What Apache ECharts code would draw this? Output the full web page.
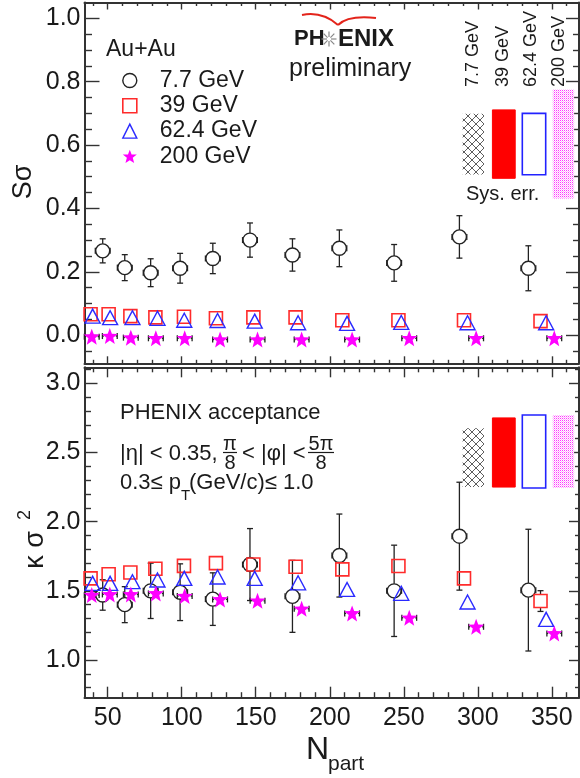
<!DOCTYPE html>
<html>
<head>
<meta charset="utf-8">
<script src="https://cdn.jsdelivr.net/npm/echarts@6/dist/echarts.min.js"></script>
<style>
html, body { margin: 0; padding: 0; background: #fff; }
#main { width: 580px; height: 778px; }
</style>
</head>
<body>
<div id="main"></div>
<script>
// N_part of each centrality bin, per beam energy
var npart77  = [46.6, 61.5, 79.0, 98.9, 121.0, 146.1, 174.8, 206.5, 243.5, 287.6, 334.2];
var npart39  = [38.4, 50.6, 65.3, 82.2, 101.5, 123.1, 148.4, 176.9, 208.5, 246.4, 290.7, 342.4];
var npart62  = [39.8, 51.6, 66.7, 83.6, 101.7, 124.2, 149.3, 178.6, 211.7, 248.3, 293.1, 346.2];
var npart200 = [39.2, 51.4, 65.6, 82.5, 102.0, 125.9, 151.2, 181.0, 215.1, 253.7, 298.9, 351.7];
// horizontal (N_part) uncertainties
var npartErr77  = [5, 5, 5, 5, 5, 5, 5, 5, 5, 5, 5];
var npartErr39  = [3.5, 3.5, 3.5, 3.5, 3.5, 3.5, 3.5, 3.5, 3.5, 3.5, 3.5, 3.5];
var npartErr62  = [4.5, 4.5, 4.5, 4.5, 4.5, 4.5, 4.5, 4.5, 4.5, 4.5, 4.5, 4.5];
var npartErr200 = [5, 5, 5, 5, 5, 5, 5, 5, 5, 5, 5, 5];

// top panel: S*sigma
var ssig77    = [0.266, 0.213, 0.197, 0.211, 0.242, 0.300, 0.253, 0.274, 0.228, 0.310, 0.211];
var ssig77Err = [0.038, 0.041, 0.044, 0.047, 0.048, 0.054, 0.051, 0.058, 0.058, 0.067, 0.071];
var ssig39    = [0.066, 0.066, 0.060, 0.056, 0.058, 0.053, 0.056, 0.056, 0.047, 0.047, 0.047, 0.044];
var ssig62    = [0.060, 0.055, 0.055, 0.053, 0.047, 0.046, 0.044, 0.039, 0.037, 0.040, 0.039, 0.039];
var ssig200   = [-0.005, -0.003, -0.008, -0.010, -0.010, -0.014, -0.014, -0.014, -0.014, -0.010, -0.010, -0.010];

// bottom panel: kappa*sigma^2
var ksig77    = [1.47, 1.40, 1.50, 1.49, 1.44, 1.69, 1.46, 1.755, 1.50, 1.895, 1.505];
var ksig77Err = [0.11, 0.13, 0.20, 0.205, 0.19, 0.26, 0.26, 0.30, 0.33, 0.39, 0.44];
var ksig39    = [1.59, 1.62, 1.633, 1.66, 1.68, 1.70, 1.69, 1.674, 1.655, 1.679, 1.59, 1.426];
var ksig39Err = [0.02, 0.02, 0.02, 0.02, 0.02, 0.02, 0.02, 0.02, 0.02, 0.02, 0.05, 0.075];
var ksig62    = [1.554, 1.554, 1.566, 1.578, 1.59, 1.60, 1.59, 1.558, 1.51, 1.482, 1.419, 1.294];
var ksig200   = [1.469, 1.474, 1.474, 1.481, 1.462, 1.438, 1.428, 1.370, 1.337, 1.305, 1.240, 1.192];

// systematic uncertainty boxes (half heights), order 7.7, 39, 62.4, 200 GeV
var sysSsig = [0.096, 0.108, 0.097, 0.172];
var sysKsig = [0.213, 0.25, 0.264, 0.264];

var energies = ['7.7 GeV', '39 GeV', '62.4 GeV', '200 GeV'];
var xTicks = [50, 100, 150, 200, 250, 300, 350];
var ssigTicks = [0, 0.2, 0.4, 0.6, 0.8, 1.0];
var ksigTicks = [1.0, 1.5, 2.0, 2.5, 3.0];

var FONT = '"Liberation Sans", Arial, Helvetica, sans-serif';
var INK = '#1a1a1a';
var FRAME = '#333';
var STAR = 'path://M50,0 L63,34 L100,35 L71,58 L81,96 L50,75 L19,96 L29,58 L0,35 L37,34 Z';

function minorsBetween(from, to, step, majors) {
  var out = [];
  for (var v = from; v <= to + 1e-9; v += step) {
    var r = Math.round(v * 1000) / 1000;
    if (majors.indexOf(r) < 0) out.push(r);
  }
  return out;
}

var chart = echarts.init(document.getElementById('main'));

// four framed sides per panel, each side = major-tick axis + minor-tick axis
function side(grid, pos, min, max, majors, minors, majLen, minLen, label) {
  var base = { gridIndex: grid, type: 'value', min: min, max: max, position: pos, splitLine: { show: false } };
  var tickStyle = { color: FRAME, width: 1.4 };
  var major = Object.assign({}, base, {
    axisLine: { show: true, onZero: false, lineStyle: { color: FRAME, width: 2 } },
    axisTick: { show: true, inside: true, length: majLen, customValues: majors, lineStyle: tickStyle },
    axisLabel: label ? Object.assign({ customValues: majors }, label) : { show: false }
  });
  var minor = Object.assign({}, base, {
    axisLine: { show: false, onZero: false },
    axisTick: { show: true, inside: true, length: minLen, customValues: minors, lineStyle: tickStyle },
    axisLabel: { show: false }
  });
  return [major, minor];
}

var X_MIN = 34.3, X_MAX = 368.4;
var xMinor = minorsBetween(40, 360, 10, xTicks);
var yLabel = { fontSize: 25, color: INK, fontFamily: FONT, margin: 4, formatter: function (v) { return v.toFixed(1); } };
var xLabel = { fontSize: 25, color: INK, fontFamily: FONT, margin: 8 };

var xAxes = [].concat(
  side(0, 'bottom', X_MIN, X_MAX, xTicks, xMinor, 7, 3.5, null),
  side(0, 'top', X_MIN, X_MAX, xTicks, xMinor, 7, 3.5, null),
  side(1, 'bottom', X_MIN, X_MAX, xTicks, xMinor, 11, 5.5, xLabel),
  side(1, 'top', X_MIN, X_MAX, xTicks, xMinor, 10, 5, null)
);
var yAxes = [].concat(
  side(0, 'left', -0.089, 1.05, ssigTicks, minorsBetween(-0.05, 1.0, 0.05, ssigTicks), 15, 7.5, yLabel),
  side(0, 'right', -0.089, 1.05, ssigTicks, minorsBetween(-0.05, 1.0, 0.05, ssigTicks), 13, 6, null),
  side(1, 'left', 0.7275, 3.1157, ksigTicks, minorsBetween(0.8, 3.1, 0.1, ksigTicks), 13, 6.5, yLabel),
  side(1, 'right', 0.7275, 3.1157, ksigTicks, minorsBetween(0.8, 3.1, 0.1, ksigTicks), 10, 4, null)
);

var styles = {
  '7.7 GeV': { symbol: 'circle', size: 14, item: { color: 'rgba(0,0,0,0)', borderColor: '#222', borderWidth: 1.4, opacity: 1 } },
  '39 GeV': { symbol: 'rect', size: 13, item: { color: 'rgba(0,0,0,0)', borderColor: '#ff2b2b', borderWidth: 1.6, opacity: 1 } },
  '62.4 GeV': { symbol: 'triangle', size: [15, 14], item: { color: 'rgba(0,0,0,0)', borderColor: '#2a2aff', borderWidth: 1.4, opacity: 1 } },
  '200 GeV': { symbol: STAR, size: 16, item: { color: '#ff00ff', opacity: 1 } }
};

function markers(name, grid, xs, ys) {
  var s = styles[name];
  return {
    type: 'scatter', name: name, xAxisIndex: grid * 4, yAxisIndex: grid * 4,
    data: xs.map(function (x, i) { return [x, ys[i]]; }),
    symbol: s.symbol, symbolSize: s.size, itemStyle: s.item, z: 5, silent: true
  };
}

// error bars with end caps, not drawn inside the marker
function errorBars(name, grid, xs, ys, yErr, xErr, gap) {
  return {
    type: 'custom', name: name, xAxisIndex: grid * 4, yAxisIndex: grid * 4, z: 4, silent: true,
    data: xs.map(function (x, i) { return [x, ys[i], yErr ? yErr[i] : 0, xErr ? xErr[i] : 0]; }),
    encode: { x: 0, y: 1 },
    renderItem: function (params, api) {
      var x = api.value(0), y = api.value(1), ey = api.value(2), ex = api.value(3);
      var c = api.coord([x, y]);
      var top = api.coord([x, y + ey])[1], bot = api.coord([x, y - ey])[1];
      var lft = api.coord([x - ex, y])[0], rgt = api.coord([x + ex, y])[0];
      var st = { stroke: '#222', lineWidth: 1.3 };
      var cap = 3, kids = [];
      function seg(x1, y1, x2, y2) { kids.push({ type: 'line', shape: { x1: x1, y1: y1, x2: x2, y2: y2 }, style: st }); }
      if (c[1] - top > gap) { seg(c[0], c[1] - gap, c[0], top); seg(c[0] - cap, top, c[0] + cap, top); }
      if (bot - c[1] > gap) { seg(c[0], c[1] + gap, c[0], bot); seg(c[0] - cap, bot, c[0] + cap, bot); }
      if (c[0] - lft > gap) { seg(c[0] - gap, c[1], lft, c[1]); seg(lft, c[1] - cap, lft, c[1] + cap); }
      if (rgt - c[0] > gap) { seg(c[0] + gap, c[1], rgt, c[1]); seg(rgt, c[1] - cap, rgt, c[1] + cap); }
      return { type: 'group', children: kids };
    }
  };
}

function hatchPattern() {
  var c = document.createElement('canvas');
  c.width = 8; c.height = 8;
  var g = c.getContext('2d');
  g.fillStyle = '#fff'; g.fillRect(0, 0, 8, 8);
  g.strokeStyle = '#333'; g.lineWidth = 0.8;
  g.beginPath(); g.moveTo(0, 0); g.lineTo(8, 8); g.moveTo(8, 0); g.lineTo(0, 8); g.stroke();
  return c;
}
function dotPattern() {
  var c = document.createElement('canvas');
  c.width = 2; c.height = 2;
  var g = c.getContext('2d');
  g.fillStyle = '#fff'; g.fillRect(0, 0, 2, 2);
  g.fillStyle = '#ff33ff'; g.fillRect(0, 0, 1, 1);
  g.fillStyle = '#ffb3ff'; g.fillRect(1, 1, 1, 1);
  return c;
}
var boxFills = [
  { fill: { image: hatchPattern(), repeat: 'repeat' }, stroke: null },
  { fill: '#ff0000', stroke: '#ff0000', lineWidth: 1 },
  { fill: '#fff', stroke: '#2222ff', lineWidth: 1.6 },
  { fill: { image: dotPattern(), repeat: 'repeat' }, stroke: null }
];

// systematic boxes: placed at fixed N_part slots, centred on given level
function sysBoxes(grid, halfs, centres) {
  var slotX = [297, 317.6, 338, 357.9];
  var slotW = [7.2, 7.7, 7.9, 7.2];
  return {
    type: 'custom', xAxisIndex: grid * 4, yAxisIndex: grid * 4, z: 3, silent: true,
    data: halfs.map(function (h, i) { return [slotX[i], centres[i], h, i]; }),
    encode: { x: 0, y: 1 },
    renderItem: function (params, api) {
      var i = api.value(3), x = api.value(0), y = api.value(1), h = api.value(2);
      var p1 = api.coord([x - slotW[i], y + h]);
      var p2 = api.coord([x + slotW[i], y - h]);
      return { type: 'rect', shape: { x: p1[0], y: p1[1], width: p2[0] - p1[0], height: p2[1] - p1[1] }, style: boxFills[i] };
    }
  };
}

function txt(s, x, y, size, opt) {
  opt = opt || {};
  var al = opt.align || 'left', va = opt.va || 'middle';
  return {
    type: 'text', x: x, y: y, rotation: opt.rot || 0, silent: true, z: 100,
    style: {
      text: s, fontSize: size, fontFamily: FONT, fontWeight: opt.bold ? 'bold' : 'normal',
      fill: opt.color || INK, align: al, verticalAlign: va, textAlign: al, textVerticalAlign: va
    }
  };
}
function ln(x1, y1, x2, y2, color, w) {
  return { type: 'line', silent: true, z: 100, shape: { x1: x1, y1: y1, x2: x2, y2: y2 }, style: { stroke: color, lineWidth: w } };
}

var graphics = [
  txt('Au+Au', 106, 50, 23),
  // PHENIX logo
  { type: 'bezierCurve', silent: true, z: 100, shape: { x1: 302, y1: 15, cpx1: 322, cpy1: 11, x2: 338, y2: 25 }, style: { stroke: '#e3241b', lineWidth: 2, fill: null } },
  { type: 'bezierCurve', silent: true, z: 100, shape: { x1: 338, y1: 25, cpx1: 348, cpy1: 15, x2: 376, y2: 18 }, style: { stroke: '#e3241b', lineWidth: 2, fill: null } },
  txt('PH', 294, 39, 22, { bold: true }),
  txt('ENIX', 338, 39, 24, { bold: true }),
  txt('preliminary', 289, 69, 25),
  // energy headers over the systematic boxes
  txt('7.7 GeV', 473, 87, 18, { rot: Math.PI / 2 }),
  txt('39 GeV', 503, 87, 18, { rot: Math.PI / 2 }),
  txt('62.4 GeV', 531, 87, 18, { rot: Math.PI / 2 }),
  txt('200 GeV', 559, 87, 18, { rot: Math.PI / 2 }),
  txt('Sys. err.', 466, 194, 20),
  // acceptance block
  txt('PHENIX acceptance', 120, 413, 22),
  txt('|\u03b7| < 0.35,', 120, 454, 22),
  txt('\u03c0', 230, 444, 20, { align: 'center' }),
  ln(223, 452.5, 237, 452.5, INK, 1.2),
  txt('8', 230, 463, 20, { align: 'center' }),
  txt('< |\u03c6| <', 242, 454, 22),
  txt('5\u03c0', 321, 444, 20, { align: 'center' }),
  ln(308, 452.5, 334, 452.5, INK, 1.2),
  txt('8', 321, 463, 20, { align: 'center' }),
  txt('0.3\u2264 p', 120, 483, 22),
  txt('T', 181, 496, 15),
  txt('(GeV/c)\u2264 1.0', 189, 483, 22),
  // axis titles
  txt('S\u03c3', 24, 182, 27, { rot: Math.PI / 2, align: 'center' }),
  txt('\u03ba \u03c3', 36, 550, 27, { rot: Math.PI / 2, align: 'center' }),
  txt('2', 25, 515, 18, { rot: Math.PI / 2, align: 'center' }),
  txt('N', 306, 750, 32),
  txt('part', 328, 764, 21)
];
// star in the PHENIX logo
for (var k = 0; k < 8; k++) {
  var a = k * Math.PI / 4;
  graphics.push(ln(329 + 2 * Math.cos(a), 39 + 2 * Math.sin(a), 329 + 7.5 * Math.cos(a), 39 + 7.5 * Math.sin(a), '#888', 1.2));
}

var series = [
  sysBoxes(0, sysSsig, [0.603, 0.603, 0.603, 0.603]),
  sysBoxes(1, sysKsig, [2.463, 2.50, 2.507, 2.507]),
  errorBars('7.7 GeV', 0, npart77, ssig77, ssig77Err, npartErr77, 7),
  errorBars('39 GeV', 0, npart39, ssig39, null, npartErr39, 7),
  errorBars('62.4 GeV', 0, npart62, ssig62, null, npartErr62, 7),
  errorBars('200 GeV', 0, npart200, ssig200, null, npartErr200, 6),
  errorBars('7.7 GeV', 1, npart77, ksig77, ksig77Err, npartErr77, 7),
  errorBars('39 GeV', 1, npart39, ksig39, ksig39Err, npartErr39, 7),
  errorBars('62.4 GeV', 1, npart62, ksig62, null, npartErr62, 7),
  errorBars('200 GeV', 1, npart200, ksig200, null, npartErr200, 6),
  markers('7.7 GeV', 0, npart77, ssig77),
  markers('7.7 GeV', 1, npart77, ksig77),
  markers('39 GeV', 0, npart39, ssig39),
  markers('39 GeV', 1, npart39, ksig39),
  markers('62.4 GeV', 0, npart62, ssig62),
  markers('62.4 GeV', 1, npart62, ksig62),
  markers('200 GeV', 0, npart200, ssig200),
  markers('200 GeV', 1, npart200, ksig200)
];

var option = {
  animation: false,
  backgroundColor: '#fff',
  grid: [
    { left: 84.5, top: 2.5, width: 494.5, height: 360.8 },
    { left: 84.5, top: 367.3, width: 494.5, height: 330.4 }
  ],
  xAxis: xAxes,
  yAxis: yAxes,
  legend: {
    orient: 'vertical', left: 117, top: 63, itemWidth: 14, itemHeight: 14, itemGap: 0.3,
    selectedMode: false,
    textStyle: { fontSize: 23, fontFamily: FONT, color: INK, lineHeight: 25, padding: [0, 0, 0, 18] },
    data: energies.map(function (e) {
      var s = styles[e];
      return { name: e, icon: s.symbol, itemStyle: s.item };
    })
  },
  graphic: graphics,
  series: series
};
chart.setOption(option);
</script>
</body>
</html>
